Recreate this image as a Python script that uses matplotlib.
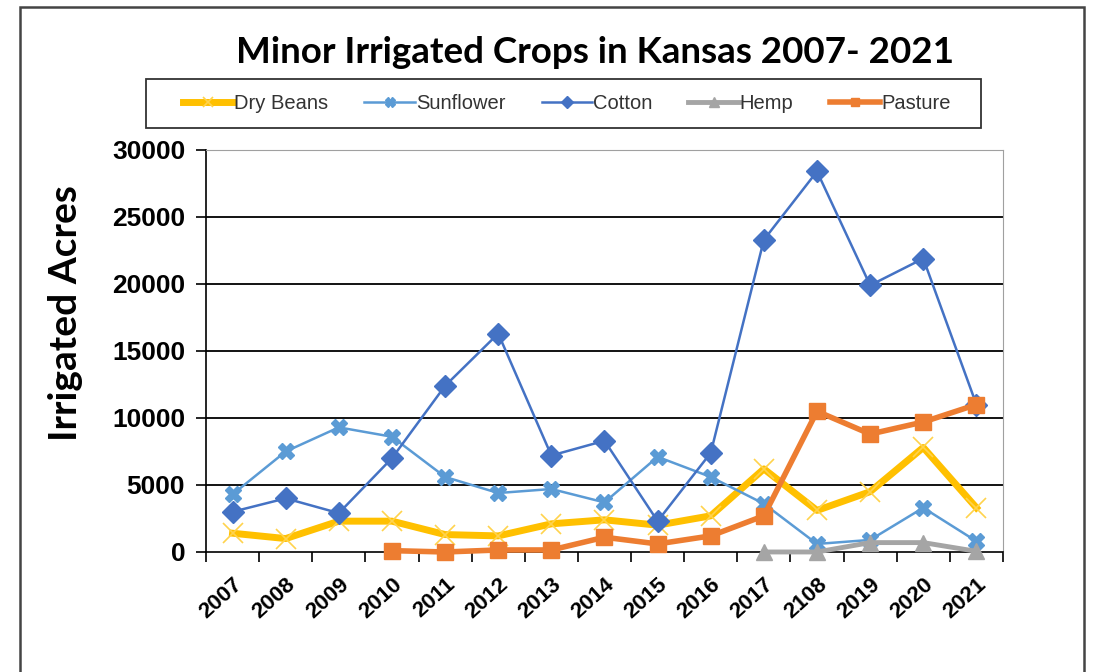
import numpy as np
import matplotlib.pyplot as plt
from matplotlib.patches import Rectangle
from matplotlib.transforms import ScaledTranslation

years = ['2007', '2008', '2009', '2010', '2011', '2012', '2013', '2014',
         '2015', '2016', '2017', '2108', '2019', '2020', '2021']

dry_beans = [1400, 1000, 2300, 2300, 1300, 1200, 2100, 2400, 2000, 2700, 6200, 3100, 4500, 7800, 3300]
sunflower = [4300, 7500, 9300, 8600, 5600, 4400, 4700, 3700, 7100, 5600, 3600, 600, 900, 3300, 800]
cotton = [3000, 4000, 2900, 7000, 12400, 16300, 7200, 8300, 2300, 7400, 23300, 28400, 19900, 21900, 11000]
hemp = [np.nan] * 10 + [0, 0, 700, 700, 50]
pasture = [np.nan] * 3 + [100, 0, 150, 150, 1100, 600, 1200, 2700, 10500, 8800, 9700, 11000]

x = np.arange(len(years))

fig = plt.figure(figsize=(10.94, 6.72), dpi=100)
ax = fig.add_axes([0.1883, 0.1786, 0.7285, 0.5982])

ax.plot(x, dry_beans, color='#FFC000', lw=5, marker='x', ms=14, mec='#FFD34D', mew=1.2,
        label='Dry Beans', zorder=3)
ax.plot(x, sunflower, color='#5B9BD5', lw=1.8, marker='X', ms=12, mec='#5B9BD5',
        label='Sunflower', zorder=4)
ax.plot(x, cotton, color='#4472C4', lw=1.8, marker='D', ms=11, mec='#4472C4',
        label='Cotton', zorder=5)
ax.plot(x, hemp, color='#A5A5A5', lw=3.5, marker='^', ms=12, mec='#A5A5A5',
        label='Hemp', zorder=6, clip_on=False)
ax.plot(x, pasture, color='#ED7D31', lw=4, marker='s', ms=11, mec='#ED7D31',
        label='Pasture', zorder=7, clip_on=False)

ax.set_xlim(-0.5, len(years) - 0.5)
ax.set_ylim(0, 30000)
ax.set_yticks(np.arange(0, 30001, 5000))
ax.set_yticklabels([str(v) for v in range(0, 30001, 5000)], fontsize=19,
                   fontweight='bold', family='Liberation Sans')
ax.set_xticks(x)
ax.set_xticklabels(years, rotation=42, ha='right', va='top', rotation_mode='anchor',
                   fontsize=16, fontweight='bold', family='Liberation Sans')
shift = ScaledTranslation(7 / 72, 0, fig.dpi_scale_trans)
for lab in ax.get_xticklabels():
    lab.set_transform(lab.get_transform() + shift)
ax.set_xticks(np.arange(-0.5, len(years)), minor=True)
ax.tick_params(axis='x', which='major', length=0, pad=16)
ax.tick_params(axis='x', which='minor', length=7, width=1.2, direction='out')
ax.tick_params(axis='y', length=7, width=1.2, direction='out', pad=8)

for v in range(5000, 30000, 5000):
    ax.axhline(v, color='black', lw=1.3, zorder=1)

ax.spines['left'].set_linewidth(1.2)
ax.spines['bottom'].set_linewidth(1.2)
ax.spines['top'].set_color('#A0A0A0')
ax.spines['right'].set_color('#A0A0A0')

ax.set_ylabel('Irrigated Acres', fontsize=28, fontweight='bold', family='Lato')
ax.yaxis.set_label_coords(-0.154, 0.595)

fig.text(0.5443, 0.9226, 'Minor Irrigated Crops in Kansas 2007- 2021', ha='center', va='center',
         fontsize=26.5, fontweight='bold', family='Lato')

# legend in its own box
leg = fig.legend(loc='center', bbox_to_anchor=(0.518, 0.846), ncol=5, frameon=False,
                 prop={'family': 'Liberation Sans', 'size': 14.5}, markerscale=0.55,
                 handlelength=2.5, handletextpad=0.05, columnspacing=1.8)
for t in leg.get_texts():
    t.set_color('#333333')
fig.patches.append(Rectangle((0.1335, 0.8095), 0.7632, 0.0729, transform=fig.transFigure,
                             fill=False, edgecolor='#333333', lw=1.3))

# outer frame
fig.patches.append(Rectangle((0.0183, -0.05), 0.9726, 1.0396, transform=fig.transFigure,
                             fill=False, edgecolor='#444444', lw=1.8))

fig.savefig('out.png', dpi=100)
